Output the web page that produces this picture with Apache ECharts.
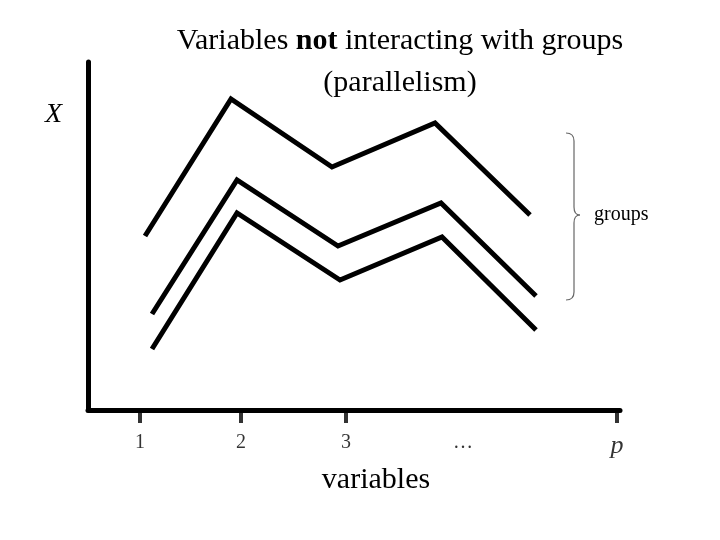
<!DOCTYPE html>
<html><head><meta charset="utf-8">
<script src="https://cdn.jsdelivr.net/npm/echarts@6/dist/echarts.min.js"></script>
<style>html,body{margin:0;background:#fff}#c{width:720px;height:540px}</style>
</head><body><div id="c"></div>
<script>
const groupX = [[57,143,244,347,442],[64,149,250,353,448],[64,149,252,354,448]];
const groupY = [[174,311,243,287,195],[96,230,164,207,114],[61,197,130,173,80]];
const tickPos = [52,153,258,375,529];
const tickLabels = ['1','2','3','…','p'];
const tickShown = [true,true,true,false,true];
const F = 'Liberation Serif';
const chart = echarts.init(document.getElementById('c'));
const series = groupX.map((xs,i)=>({type:'line',symbol:'none',data:xs.map((x,j)=>[x,groupY[i][j]]),
  lineStyle:{color:'#000',width:5,join:'miter'},clip:false}));
series.push({type:'scatter',clip:false,silent:true,
  data:tickPos.map((x,i)=>({value:[x,0],symbolSize:tickShown[i]?[4,12]:0,
    label:{show:true,formatter:tickLabels[i],position:'bottom',distance:tickShown[i]?10:16,
      fontFamily:F,fontSize:tickLabels[i]==='p'?26:20,fontStyle:tickLabels[i]==='p'?'italic':'normal',color:'#000'}})),
  symbol:'rect',symbolOffset:[0,7],itemStyle:{color:'#000'}});
const st = {stroke:'#666',lineWidth:1.2,fill:null};
chart.setOption({
  animation:false,
  grid:{left:88,right:100,top:62,bottom:130},
  xAxis:{type:'value',min:0,max:532,axisLine:{show:true,onZero:false,lineStyle:{color:'#000',width:5}},axisTick:{show:false},axisLabel:{show:false},splitLine:{show:false}},
  yAxis:{type:'value',min:0,max:348,axisLine:{show:true,lineStyle:{color:'#000',width:5}},axisTick:{show:false},axisLabel:{show:false},splitLine:{show:false}},
  series,
  graphic:[
    {type:'text',x:400,y:20,style:{text:'Variables {b|not} interacting with groups\n(parallelism)',
      font:'30px "Liberation Serif"',fill:'#000',align:'center',lineHeight:42,
      rich:{b:{fontWeight:'bold',fontSize:30,fontFamily:F}}}},
    {type:'text',x:45,y:101,style:{text:'X',font:'italic 28px "Liberation Serif"',fill:'#000'}},
    {type:'text',x:376,y:465,style:{text:'variables',font:'30px "Liberation Serif"',fill:'#000',align:'center'}},
    {type:'text',x:594,y:205,style:{text:'groups',font:'20px "Liberation Serif"',fill:'#000'}},
    {type:'bezierCurve',shape:{x1:566,y1:133,cpx1:574,cpy1:133,x2:574,y2:141},style:st},
    {type:'line',shape:{x1:574,y1:141,x2:574,y2:207},style:st},
    {type:'bezierCurve',shape:{x1:574,y1:207,cpx1:574,cpy1:215,x2:580,y2:215},style:st},
    {type:'bezierCurve',shape:{x1:580,y1:215,cpx1:574,cpy1:215,x2:574,y2:223},style:st},
    {type:'line',shape:{x1:574,y1:223,x2:574,y2:292},style:st},
    {type:'bezierCurve',shape:{x1:574,y1:292,cpx1:574,cpy1:300,x2:566,y2:300},style:st}
  ]
});
</script></body></html>
